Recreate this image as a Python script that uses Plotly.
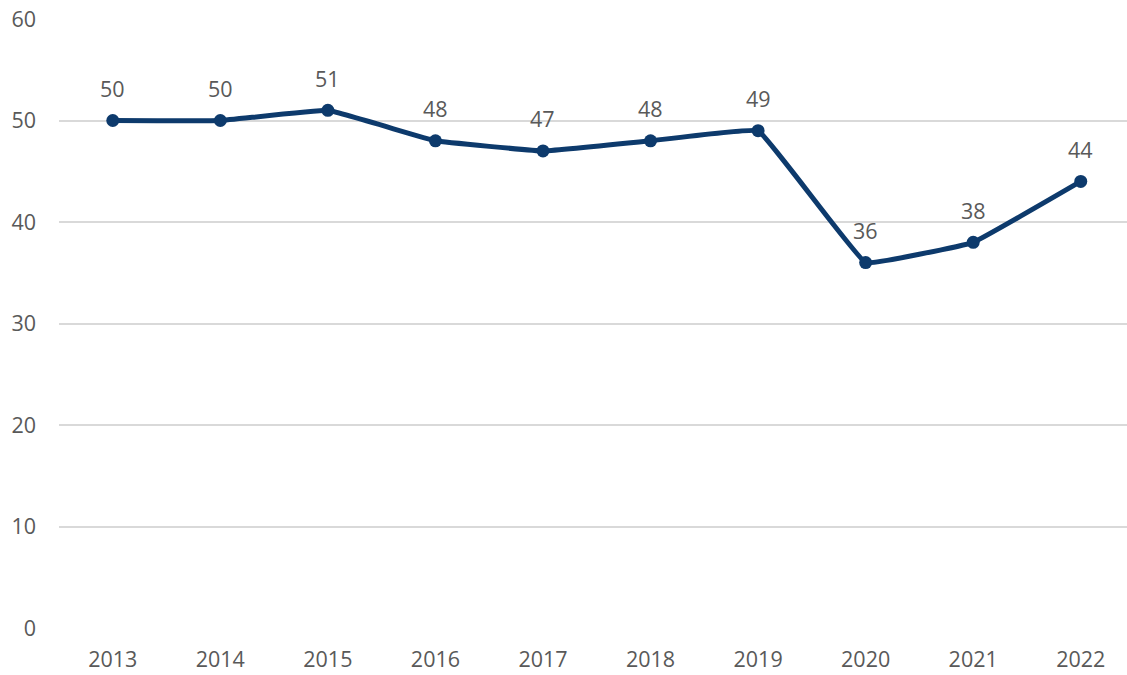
import plotly.graph_objects as go

years = ["2013", "2014", "2015", "2016", "2017", "2018", "2019", "2020", "2021", "2022"]
values = [50, 50, 51, 48, 47, 48, 49, 36, 38, 44]

line_color = "#0d3a6c"
text_color = "#595959"
font_family = "Open Sans, sans-serif"
font_size = 21.5

fig = go.Figure()
fig.add_trace(go.Scatter(
    x=years,
    y=values,
    mode="lines+markers",
    line=dict(color=line_color, width=5, shape="spline", smoothing=0.2),
    marker=dict(color=line_color, size=13),
    hoverinfo="skip",
))

# value labels above each point (x given as category index)
for i, v in enumerate(values):
    fig.add_annotation(
        x=i, y=v, xref="x", yref="y", text=str(v), showarrow=False,
        yshift=32, font=dict(size=font_size, color=text_color, family=font_family),
    )

fig.update_layout(
    width=1127,
    height=675,
    margin=dict(l=59, r=0, t=19, b=47),
    paper_bgcolor="white",
    plot_bgcolor="white",
    showlegend=False,
    font=dict(family=font_family, size=font_size, color=text_color),
    xaxis=dict(
        type="category",
        range=[-0.5, 9.43],
        showgrid=False,
        showline=False,
        zeroline=False,
        ticks="",
        ticklabelstandoff=16,
        tickfont=dict(size=font_size, color=text_color),
    ),
    yaxis=dict(
        range=[0, 60],
        dtick=10,
        showgrid=True,
        gridcolor="#d9d9d9",
        gridwidth=1.5,
        zeroline=False,
        showline=False,
        ticks="",
        ticklabelstandoff=22,
        tickfont=dict(size=font_size, color=text_color),
    ),
)

fig.write_html("out.html")
